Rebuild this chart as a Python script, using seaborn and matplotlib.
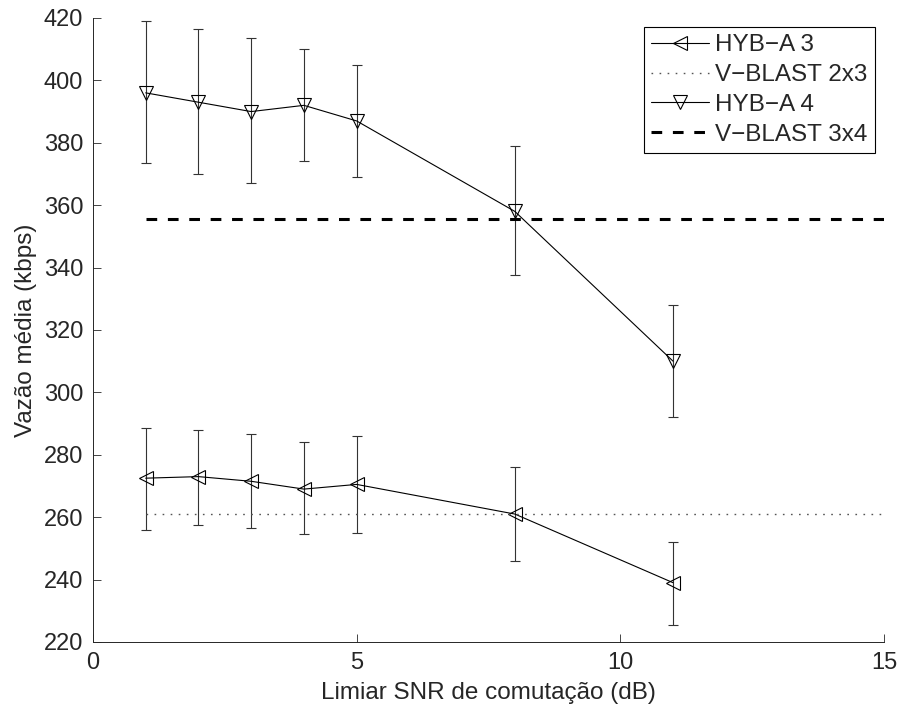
import numpy as np
import pandas as pd
import matplotlib
matplotlib.use("Agg")
import matplotlib.pyplot as plt
import seaborn as sns

# Data
snr = [1, 2, 3, 4, 5, 8, 11]
hyb3 = [272.5, 273.0, 271.5, 269.0, 270.5, 261.0, 239.0]
hyb3_hi = [288.5, 288.0, 286.5, 284.0, 286.0, 276.0, 252.0]
hyb3_lo = [256.0, 257.5, 256.5, 254.5, 255.0, 246.0, 225.5]
hyb4 = [396.0, 393.0, 390.0, 392.0, 387.0, 358.0, 310.0]
hyb4_hi = [419.0, 416.5, 413.5, 410.0, 405.0, 379.0, 328.0]
hyb4_lo = [373.5, 370.0, 367.0, 374.0, 369.0, 337.5, 292.0]
vb_x = [1, 15]
vb23 = [261.0, 261.0]
vb34 = [355.5, 355.5]

sns.set_style("ticks")
plt.rcParams['font.family'] = ['Liberation Sans', 'DejaVu Sans']
plt.rcParams['xtick.direction'] = 'in'
plt.rcParams['ytick.direction'] = 'in'

fig = plt.figure(figsize=(8.99, 7.05), dpi=100)
ax = fig.add_axes([0.1034, 0.0894, 0.8799, 0.8851])

lw = 0.8
ax.errorbar(snr, hyb3, yerr=[np.array(hyb3) - np.array(hyb3_lo), np.array(hyb3_hi) - np.array(hyb3)],
            fmt='none', ecolor='#333333', elinewidth=lw, capsize=3.6, capthick=lw, zorder=1)
ax.errorbar(snr, hyb4, yerr=[np.array(hyb4) - np.array(hyb4_lo), np.array(hyb4_hi) - np.array(hyb4)],
            fmt='none', ecolor='#333333', elinewidth=lw, capsize=3.6, capthick=lw, zorder=1)

df3 = pd.DataFrame({'x': snr, 'y': hyb3})
df4 = pd.DataFrame({'x': snr, 'y': hyb4})
dv23 = pd.DataFrame({'x': vb_x, 'y': vb23})
dv34 = pd.DataFrame({'x': vb_x, 'y': vb34})

sns.lineplot(data=df3, x='x', y='y', ax=ax, color='black', lw=lw, marker='<', markersize=10,
             markerfacecolor='none', markeredgecolor='black', markeredgewidth=lw, label='HYB\u2212A 3')
sns.lineplot(data=dv23, x='x', y='y', ax=ax, color='#555555', lw=1.0, linestyle=(0, (1.2, 4.6)),
             label='V\u2212BLAST 2x3')
sns.lineplot(data=df4, x='x', y='y', ax=ax, color='black', lw=lw, marker='v', markersize=10,
             markerfacecolor='none', markeredgecolor='black', markeredgewidth=lw, label='HYB\u2212A 4')
sns.lineplot(data=dv34, x='x', y='y', ax=ax, color='black', lw=2.2, linestyle=(0, (3.5, 3.5)),
             label='V\u2212BLAST 3x4')

ax.set_xlim(0, 15)
ax.set_ylim(220, 420)
ax.set_xticks([0, 5, 10, 15])
ax.set_yticks(np.arange(220, 421, 20))
ax.tick_params(labelsize=17, length=6, width=0.6, pad=7)
ax.spines['top'].set_visible(False)
ax.spines['right'].set_visible(False)
for s in ['left', 'bottom']:
    ax.spines[s].set_linewidth(0.7)
ax.set_xlabel('Limiar SNR de comutação (dB)', fontsize=17.5, labelpad=6)
ax.set_ylabel('Vazão média (kbps)', fontsize=17.5, labelpad=5)

leg = ax.legend(loc='upper right', fontsize=17.5, frameon=True, fancybox=False, framealpha=1,
                edgecolor='black', handlelength=2.4, handletextpad=0.25, borderaxespad=0.37,
                labelspacing=0.32, borderpad=0.3)
leg.get_frame().set_linewidth(0.8)

fig.savefig('out.png', dpi=100)
